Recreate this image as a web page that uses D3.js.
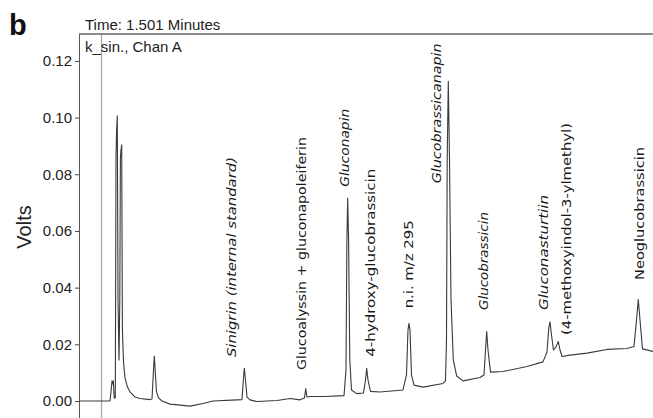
<!DOCTYPE html>
<html>
<head>
<meta charset="utf-8">
<script src="https://cdn.jsdelivr.net/npm/d3@7"></script>
<style>
  body { margin: 0; background: #fff; }
</style>
</head>
<body>
<div id="chart"></div>
<script>
// chromatogram trace (minutes, volts)
const times = [0, 2.067, 2.133, 2.2, 2.247, 2.287, 2.347, 2.42, 2.467, 2.507, 2.553, 2.6, 2.667, 2.72, 2.76, 2.8, 2.847, 2.893, 2.967, 3.067,
  3.233, 3.4, 3.733, 4.067, 4.733, 4.867, 4.967, 5.02, 5.087, 5.167, 5.3, 5.533, 6.067, 7.4, 8.267, 8.933, 10.533, 10.867, 10.967, 11.02,
  11.087, 11.2, 11.4, 11.867, 13.2, 14.067, 14.733, 15.033, 15.113, 15.2, 15.4, 16.4, 17.667, 17.8, 17.86, 17.913, 17.973, 18.053, 18.167, 18.513,
  18.967, 19.1, 19.18, 19.267, 19.433, 20.067, 21.6, 21.833, 21.933, 22.0, 22.067, 22.167, 22.333, 22.933, 24.267, 24.433, 24.5, 24.547, 24.62, 24.7,
  24.8, 24.953, 25.18, 25.6, 26.733, 27.0, 27.1, 27.18, 27.267, 27.433, 28.267, 29.867, 30.933, 31.2, 31.32, 31.4, 31.5, 31.633, 31.8, 31.953,
  32.067, 32.2, 32.733, 33.867, 35.2, 36.533, 37.0, 37.167, 37.287, 37.4, 37.567, 38.267];
const volts = [0, 0, 0.0032, 0.0071, 0.006, 0.0071, 0.0011, 0.0011, 0.0858, 0.0957, 0.1006, 0.0357, 0.0145, 0.0357, 0.0858, 0.0886, 0.0904, 0.0251, 0.0138, 0.0081,
  0.0049, 0.0032, 0.0014, 0.0009, 0.0005, 0.0007, 0.0109, 0.0159, 0.0102, 0.0032, 0.0011, 0, -0.0011, -0.0018, -0.0009, 0, 0.0004, 0.0005, 0.0081, 0.0115,
  0.0081, 0.0014, 0.0004, -0.0002, 0.0002, 0.0009, 0.0004, 0.0011, 0.0044, 0.0014, 0.0016, 0.0016, 0.0019, 0.0109, 0.0568, 0.0715, 0.0568, 0.0145, 0.0039, 0.0026,
  0.0028, 0.0074, 0.0115, 0.0074, 0.0034, 0.0032, 0.0039, 0.0092, 0.0251, 0.0274, 0.0251, 0.0092, 0.0056, 0.0049, 0.0062, 0.0071, 0.0215, 0.0851, 0.1128, 0.0851,
  0.0357, 0.0145, 0.0088, 0.0071, 0.0083, 0.0092, 0.018, 0.0245, 0.018, 0.0102, 0.0104, 0.0122, 0.0138, 0.0173, 0.0258, 0.0279, 0.0233, 0.018, 0.0191, 0.021,
  0.018, 0.0157, 0.0162, 0.0169, 0.0182, 0.0185, 0.0192, 0.0286, 0.0358, 0.0286, 0.0184, 0.0175];

const yTicks = [0, 0.02, 0.04, 0.06, 0.08, 0.10, 0.12];
const cursorTime = 1.501;

// peak labels: text, anchor time, volts at the foot of the label, italic?
const labelTexts = ['Sinigrin (internal standard)', 'Glucoalyssin + gluconapoleiferin', 'Gluconapin', '4-hydroxy-glucobrassicin',
  'n.i. m/z 295', 'Glucobrassicanapin', 'Glucobrassicin', 'Gluconasturtiin', '(4-methoxyindol-3-ylmethyl)', 'Neoglucobrassicin'];
const labelTimes = [10.18, 14.85, 17.73, 19.45, 21.95, 23.85, 26.95, 30.95, 32.47, 37.4];
const labelVolts = [0.0155, 0.0109, 0.0756, 0.0156, 0.0327, 0.0768, 0.0321, 0.0321, 0.0233, 0.0427];
const labelItalic = [true, false, true, false, false, true, true, true, false, false];

const W = 653, H = 418;
const plotLeft = 79, plotTop = 34;

const svg = d3.select('#chart').append('svg')
  .attr('width', W)
  .attr('height', H)
  .style('font-family', '"Liberation Sans", Arial, sans-serif');

const x = d3.scaleLinear().domain([0, 38.267]).range([plotLeft, W]);
const y = d3.scaleLinear().domain([-0.006, 0.1295]).range([H, plotTop]);

svg.append('defs').append('clipPath').attr('id', 'plot')
  .append('rect').attr('x', plotLeft).attr('y', plotTop).attr('width', W - plotLeft).attr('height', H - plotTop);

// cursor line at 1.501 min
svg.append('line')
  .attr('x1', x(cursorTime)).attr('x2', x(cursorTime))
  .attr('y1', plotTop).attr('y2', H)
  .attr('stroke', '#a8a8a8')
  .attr('stroke-width', 1.3);

// top frame line
svg.append('line')
  .attr('x1', plotLeft).attr('x2', W)
  .attr('y1', plotTop).attr('y2', plotTop)
  .attr('stroke', '#666')
  .attr('stroke-width', 1.5);

const yAxis = svg.append('g')
  .attr('transform', `translate(${plotLeft},0)`)
  .call(d3.axisLeft(y).tickValues(yTicks).tickFormat(d3.format('.2f')).tickSizeInner(4).tickSizeOuter(0).tickPadding(3));
yAxis.select('.domain').attr('stroke', '#555');
yAxis.selectAll('.tick line').attr('stroke', '#444');
yAxis.selectAll('.tick text')
  .attr('fill', '#222')
  .style('font-size', '15px')
  .style('font-family', '"Liberation Sans", Arial, sans-serif');

svg.append('text')
  .attr('transform', 'translate(31,227) rotate(-90)')
  .attr('text-anchor', 'middle')
  .attr('fill', '#222')
  .style('font-size', '20px')
  .text('Volts');

svg.append('text')
  .attr('x', 9).attr('y', 35)
  .attr('fill', '#111')
  .style('font-size', '29px')
  .style('font-weight', 'bold')
  .text('b');

svg.append('text')
  .attr('x', 85).attr('y', 29.5)
  .attr('fill', '#222')
  .style('font-size', '15px')
  .text('Time: 1.501 Minutes');

svg.append('text')
  .attr('x', 85).attr('y', 51.5)
  .attr('fill', '#222')
  .style('font-size', '15px')
  .text('k_sin., Chan A');

const pts = times.map((t, i) => [t, volts[i]]);
svg.append('path')
  .datum(pts)
  .attr('clip-path', 'url(#plot)')
  .attr('fill', 'none')
  .attr('stroke', '#3a3a3a')
  .attr('stroke-width', 1.1)
  .attr('stroke-linejoin', 'round')
  .attr('d', d3.line().x(d => x(d[0])).y(d => y(d[1])));

// label lengths in px, as drawn in the reference
const labelLen = [200, 233, 78, 188, 88, 140, 98, 115, 212, 133];
labelTexts.forEach((txt, i) => {
  svg.append('text')
    .attr('transform', `translate(${x(labelTimes[i])},${y(labelVolts[i])}) rotate(-90)`)
    .attr('dominant-baseline', 'central')
    .attr('fill', '#1a1a1a')
    .attr('textLength', labelLen[i])
    .attr('lengthAdjust', 'spacingAndGlyphs')
    .style('font-family', '"DejaVu Sans", sans-serif')
    .style('font-size', '13px')
    .style('font-style', labelItalic[i] ? 'italic' : 'normal')
    .text(txt);
});
</script>
</body>
</html>
